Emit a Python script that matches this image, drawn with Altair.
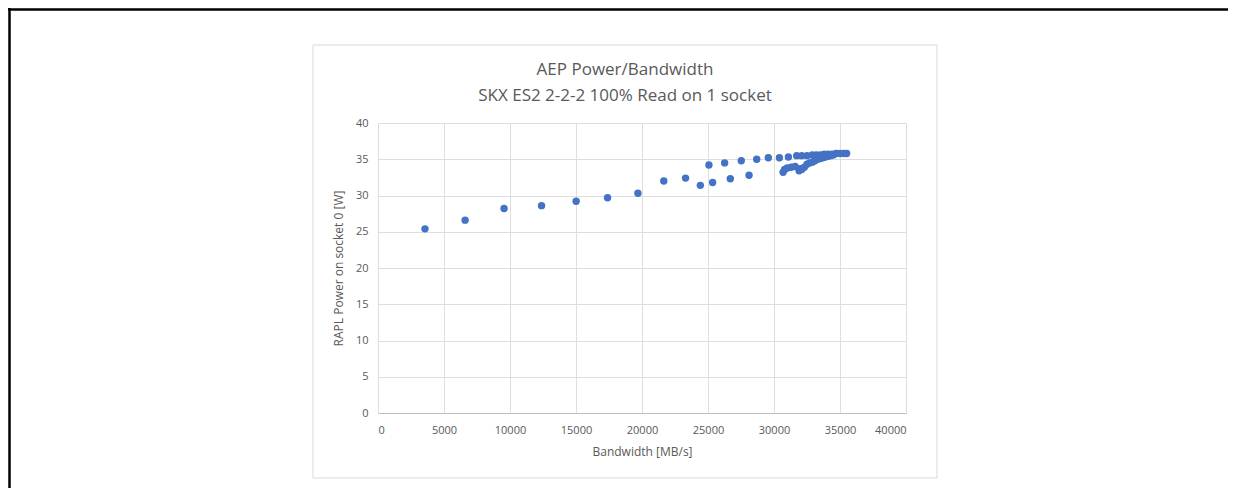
import altair as alt
import pandas as pd

# Upper sweep
upper_bw = [3560, 6600, 9550, 12390, 15010, 17390, 19690, 21650, 23300, 25070, 26260,
            27520, 28690, 29570, 30410, 31090, 31720, 32100, 32500, 32900, 33200, 33500,
            33800, 34100, 34400, 34700, 35000, 35300, 35500]
upper_pw = [25.4, 26.6, 28.2, 28.6, 29.2, 29.7, 30.3, 32.0, 32.4, 34.2, 34.5,
            34.8, 35.0, 35.2, 35.2, 35.3, 35.5, 35.5, 35.5, 35.6, 35.6, 35.6,
            35.7, 35.7, 35.7, 35.8, 35.8, 35.8, 35.8]
# Lower sweep
lower_bw = [24420, 25350, 26690, 28110, 30690, 30800, 31000, 31300, 31600, 31900, 32000,
            32100, 32300, 32500, 32700, 32900, 33100, 33300, 33500, 33700, 33900, 34100,
            34300, 34500]
lower_pw = [31.4, 31.8, 32.3, 32.8, 33.2, 33.6, 33.8, 33.9, 34.0, 33.4, 33.7,
            33.6, 33.9, 34.3, 34.5, 34.6, 34.8, 35.0, 35.1, 35.2, 35.3, 35.4,
            35.5, 35.6]

x_ticks = [0, 5000, 10000, 15000, 20000, 25000, 30000, 35000, 40000]
y_ticks = [0, 5, 10, 15, 20, 25, 30, 35, 40]

title_lines = ["AEP Power/Bandwidth", "SKX ES2 2-2-2 100% Read on 1 socket"]
x_title = "Bandwidth [MB/s]"
y_title = "RAPL Power on socket 0 [W]"

df = pd.DataFrame({
    "bw": upper_bw + lower_bw,
    "pw": upper_pw + lower_pw,
})

FONT = "Open Sans"
GRAY = "#595959"

W, H = 528, 290
PAD_L, PAD_T, PAD_R, PAD_B = 370, 115, 322, 75

anchor = pd.DataFrame({"k": [0]})

# chart frame box (decoration)
box = alt.Chart(anchor).mark_rect(fillOpacity=0, stroke="#d9d9d9", strokeWidth=1).encode(
    x=alt.value(-65), x2=alt.value(559), y=alt.value(-78), y2=alt.value(355)
)
# page frame lines (decoration)
top_line = alt.Chart(anchor).mark_rule(color="black", strokeWidth=2.5).encode(
    x=alt.value(-370), x2=alt.value(W + PAD_R), y=alt.value(-113.5)
)
left_line = alt.Chart(anchor).mark_rule(color="black", strokeWidth=2.5).encode(
    x=alt.value(-368.5), y=alt.value(-115), y2=alt.value(H + PAD_B)
)
title1 = alt.Chart(anchor).mark_text(
    text=title_lines[0], font=FONT, fontSize=17, color=GRAY, align="center", baseline="middle"
).encode(x=alt.value(247), y=alt.value(-53))
title2 = alt.Chart(anchor).mark_text(
    text=title_lines[1], font=FONT, fontSize=17, color=GRAY, align="center", baseline="middle"
).encode(x=alt.value(247), y=alt.value(-27))

points = alt.Chart(df).mark_circle(size=55, color="#4472c4", opacity=1).encode(
    x=alt.X("bw:Q", scale=alt.Scale(domain=[0, 40000], nice=False),
            axis=alt.Axis(values=x_ticks, title=x_title, format="d", titlePadding=11,
                          labelPadding=11, domain=True, domainColor="#bfbfbf", ticks=False,
                          grid=True, labelFont=FONT, labelFontSize=11, labelColor=GRAY,
                          titleFont=FONT, titleFontSize=12, titleFontWeight="normal",
                          titleColor=GRAY, gridColor="#dedede")),
    y=alt.Y("pw:Q", scale=alt.Scale(domain=[0, 40], nice=False),
            axis=alt.Axis(values=y_ticks, title=y_title, titlePadding=10,
                          labelPadding=10, domain=False, ticks=False, grid=True,
                          labelFont=FONT, labelFontSize=11, labelColor=GRAY,
                          titleFont=FONT, titleFontSize=12, titleFontWeight="normal",
                          titleColor=GRAY, gridColor="#dedede")),
)

chart = alt.layer(box, top_line, left_line, title1, title2, points).properties(
    width=W, height=H,
    autosize=alt.AutoSizeParams(type="none"),
    padding={"left": PAD_L, "top": PAD_T, "right": PAD_R, "bottom": PAD_B},
    background="white",
).configure_view(stroke=None)

chart.save("out.html", embed_options={"renderer": "svg", "actions": False})
